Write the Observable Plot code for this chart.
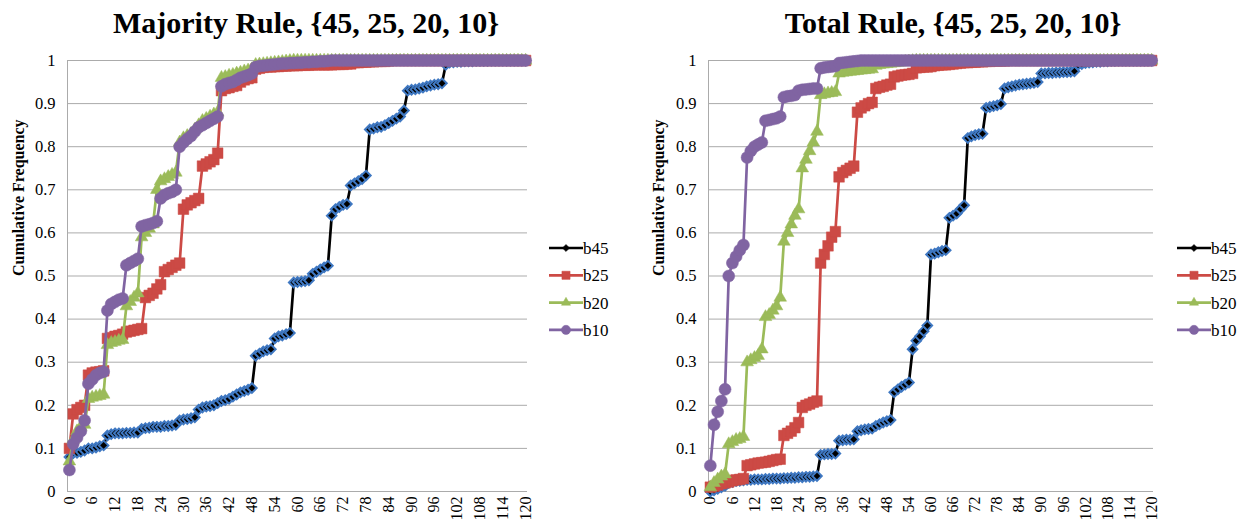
<!DOCTYPE html>
<html>
<head>
<meta charset="utf-8">
<script src="https://cdn.jsdelivr.net/npm/d3@7"></script>
<script src="https://cdn.jsdelivr.net/npm/@observablehq/plot@0.6"></script>
<style>
  body { margin: 0; background: #fff; }
  #root { position: relative; width: 1246px; height: 522px; overflow: hidden;
          font-family: "Liberation Serif", "Times New Roman", serif; }
  .title { position: absolute; top: 8px; font-weight: bold; font-size: 30px; line-height: 30px;
           text-align: center; white-space: nowrap; color: #000; }
  .plot { position: absolute; top: 45px; }
  .legend { position: absolute; }
</style>
</head>
<body>
<div id="root"></div>
<script>
// ---------------- DATA ----------------
const titles = ["Majority Rule, {45, 25, 20, 10}", "Total Rule, {45, 25, 20, 10}"];
const yLabel = "Cumulative Frequency";
const seriesNames = ["b45", "b25", "b20", "b10"];
const yTicks = [0, 0.1, 0.2, 0.3, 0.4, 0.5, 0.6, 0.7, 0.8, 0.9, 1];
const xTicks = [0, 6, 12, 18, 24, 30, 36, 42, 48, 54, 60, 66, 72, 78, 84, 90, 96, 102, 108, 114, 120];
const categories = [
  0,1,2,3,4,5,6,7,8,9,10,11,12,13,14,15,16,17,18,19,
  20,21,22,23,24,25,26,27,28,29,30,31,32,33,34,35,36,37,38,39,
  40,41,42,43,44,45,46,47,48,49,50,51,52,53,54,55,56,57,58,59,
  60,61,62,63,64,65,66,67,68,69,70,71,72,73,74,75,76,77,78,79,
  80,81,82,83,84,85,86,87,88,89,90,91,92,93,94,95,96,97,98,99,
  100,101,102,103,104,105,106,107,108,109,110,111,112,113,114,115,116,117,118,119,
  120
];

// Majority Rule
const majB45 = [
  0.08,
  0.09,0.09,0.092,0.095,0.1,0.1,0.102,0.105,0.107,
  0.13,0.133,0.135,0.135,0.135,0.136,0.136,0.137,0.137,
  0.145,0.147,0.148,0.15,0.15,0.15,0.152,0.152,0.153,0.155,
  0.165,0.167,0.168,0.17,0.172,
  0.19,0.195,0.197,0.198,0.2,
  0.205,0.21,0.212,0.215,0.22,
  0.225,0.23,0.233,0.236,0.24,
  0.315,0.32,0.325,0.328,0.33,
  0.355,0.36,0.362,0.365,0.368,
  0.485,0.486,0.487,0.488,0.49,
  0.505,0.51,0.515,0.52,0.524,
  0.64,0.655,0.66,0.665,0.667,
  0.71,0.715,0.72,0.725,0.733,
  0.84,0.842,0.845,0.846,0.85,0.855,0.86,0.865,0.87,0.884,
  0.93,0.932,0.933,0.935,0.937,0.94,0.942,0.944,0.945,0.947,
  0.99,0.995,0.996,0.997,0.997,0.998,0.998,0.998,0.999,0.999,0.999,0.999,
  1,1,1,1,1,1,1,1,1,1
];
const majB25 = [
  0.1,0.18,0.19,0.195,0.2,
  0.27,0.275,0.277,0.278,0.28,
  0.355,0.357,0.36,0.362,0.365,
  0.37,0.372,0.374,0.376,0.378,
  0.45,0.455,0.46,0.47,0.48,
  0.51,0.515,0.52,0.525,0.53,
  0.655,0.665,0.67,0.675,0.68,
  0.755,0.76,0.765,0.77,0.785,
  0.93,0.935,0.937,0.94,0.942,0.95,0.955,0.958,0.96,
  0.98,0.982,0.984,0.985,0.985,0.986,0.986,0.987,0.987,0.988,
  0.988,0.988,0.989,0.989,0.989,0.99,0.99,0.99,0.99,0.99,
  0.99,0.991,0.991,0.991,0.992,0.992,
  0.995,0.995,0.996,0.996,0.997,0.997,0.998,0.998,0.998,0.999,
  1,1,1,1,1,1,1,1,1,1,
  1,1,1,1,1,1,1,1,1,1,
  1,1,1,1,1,1,1,1,1,1,
  1,1,1,1,1,1
];
const majB20 = [
  0.07,0.12,0.14,0.15,0.155,
  0.215,0.218,0.22,0.222,0.225,
  0.34,0.345,0.347,0.35,0.352,
  0.43,0.44,0.45,0.46,
  0.59,0.6,0.61,0.62,
  0.7,0.72,0.725,0.73,0.735,0.74,
  0.81,0.82,0.825,0.83,0.84,0.85,0.86,0.865,0.87,0.875,0.88,
  0.96,0.962,0.965,0.967,0.97,0.972,0.975,0.977,0.98,
  0.99,0.991,0.992,0.993,0.994,0.995,0.996,0.997,0.998,0.999,
  1,1,1,1,1,1,1,1,1,1,
  1,1,1,1,1,1,1,1,1,1,
  1,1,1,1,1,1,1,1,1,1,
  1,1,1,1,1,1,1,1,1,1,
  1,1,1,1,1,1,1,1,1,1,
  1,1,1,1,1,1,1,1,1,1,
  1,1
];
const majB10 = [
  0.05,0.11,0.125,0.14,0.165,
  0.25,0.26,0.27,0.275,0.278,
  0.42,0.435,0.44,0.445,0.448,
  0.525,0.53,0.535,0.54,
  0.615,0.618,0.62,0.623,0.627,
  0.68,0.688,0.692,0.695,0.7,
  0.8,0.81,0.818,0.825,0.835,0.845,0.85,0.855,0.86,0.865,0.87,
  0.94,0.945,0.948,0.95,0.955,0.96,0.963,0.966,0.97,
  0.985,0.987,0.988,0.989,0.99,0.991,0.992,0.993,0.993,0.994,
  0.994,0.995,0.995,0.996,0.996,0.997,0.997,0.998,0.998,0.999,
  1,1,1,1,1,1,1,1,1,1,
  1,1,1,1,1,1,1,1,1,1,
  1,1,1,1,1,1,1,1,1,1,
  1,1,1,1,1,1,1,1,1,1,
  1,1,1,1,1,1,1,1,1,1,
  1,1
];

// Total Rule
const totB45 = [
  0.0,0.003,0.006,0.01,0.013,
  0.02,0.022,0.024,0.025,0.026,0.027,0.027,0.028,0.028,0.028,
  0.029,0.029,0.03,0.03,0.03,0.031,0.031,0.032,0.032,0.033,
  0.033,0.034,0.034,0.035,0.036,
  0.085,0.086,0.087,0.087,0.088,
  0.118,0.119,0.12,0.12,0.121,
  0.14,0.142,0.144,0.145,0.146,
  0.152,0.156,0.16,0.163,0.166,
  0.23,0.237,0.243,0.248,0.253,
  0.33,0.35,0.36,0.372,0.385,
  0.55,0.552,0.555,0.558,0.56,
  0.635,0.64,0.645,0.655,0.664,
  0.82,0.824,0.827,0.829,0.83,
  0.89,0.892,0.894,0.896,0.899,
  0.935,0.938,0.94,0.942,0.944,0.945,0.946,0.947,0.948,0.95,
  0.97,0.97,0.971,0.971,0.972,0.972,0.973,0.973,0.974,0.975,
  0.99,0.992,0.994,0.995,0.996,0.997,0.997,0.998,0.998,0.999,0.999,
  1,1,1,1,1,1,1,1,1,1
];
const totB25 = [
  0.01,0.012,0.015,0.018,0.02,0.022,0.025,0.027,0.028,0.03,
  0.06,0.062,0.064,0.066,0.067,0.068,0.07,0.072,0.074,0.075,
  0.13,0.135,0.14,0.148,0.16,
  0.195,0.2,0.203,0.207,0.21,
  0.53,0.55,0.57,0.59,0.603,
  0.73,0.74,0.745,0.75,0.755,
  0.88,0.89,0.895,0.9,0.903,
  0.935,0.938,0.94,0.943,0.945,
  0.962,0.964,0.966,0.967,0.968,0.97,
  0.983,0.984,0.985,0.985,0.986,
  0.988,0.989,0.99,0.99,0.991,0.992,0.993,0.994,0.995,0.995,
  0.996,0.996,0.997,0.997,0.998,0.998,0.999,0.999,0.999,0.999,
  1,1,1,1,1,1,1,1,1,1,
  1,1,1,1,1,1,1,1,1,1,
  1,1,1,1,1,1,1,1,1,1,
  1,1,1,1,1,1,1,1,1,1
];
const totB20 = [
  0.01,0.02,0.028,0.035,0.04,
  0.11,0.115,0.12,0.122,0.127,
  0.3,0.305,0.31,0.315,0.33,
  0.405,0.41,0.42,0.43,0.45,
  0.58,0.6,0.62,0.64,0.655,
  0.75,0.77,0.79,0.81,0.835,
  0.92,0.922,0.924,0.925,0.927,
  0.97,0.972,0.973,0.974,0.975,0.976,0.977,0.978,0.979,0.98,
  0.988,0.99,0.991,0.992,0.993,0.994,0.995,0.996,0.997,0.998,0.999,
  1,1,1,1,1,1,1,1,1,1,
  1,1,1,1,1,1,1,1,1,1,
  1,1,1,1,1,1,1,1,1,1,
  1,1,1,1,1,1,1,1,1,1,
  1,1,1,1,1,1,1,1,1,1,
  1,1,1,1,1,1,1,1,1,1,
  1,1,1,1,1
];
const totB10 = [
  0.06,0.155,0.185,0.21,0.237,
  0.5,0.53,0.545,0.56,0.572,
  0.775,0.79,0.8,0.805,0.81,
  0.86,0.862,0.864,0.866,0.87,
  0.915,0.917,0.918,0.92,
  0.93,0.932,0.933,0.934,0.935,0.935,
  0.982,0.984,0.985,0.986,0.987,
  0.994,0.995,0.996,0.997,0.998,0.999,
  1,1,1,1,1,1,1,1,1,1,
  1,1,1,1,1,1,1,1,1,1,
  1,1,1,1,1,1,1,1,1,1,
  1,1,1,1,1,1,1,1,1,1,
  1,1,1,1,1,1,1,1,1,1,
  1,1,1,1,1,1,1,1,1,1,
  1,1,1,1,1,1,1,1,1,1,
  1,1,1,1,1,1,1,1,1,1
];

// ---------------- STYLE ----------------
const gridColor = "#ababab";
const styles = {
  b45: {line: "#000000", fill: "#000000", stroke: "#3f78c2", strokeWidth: 2, symbol: "diamond2", r: 4.3},
  b25: {line: "#cc4a45", fill: "#cc4a45", stroke: "#cc4a45", strokeWidth: 0.5, symbol: "square", r: 6},
  b20: {line: "#9bbb59", fill: "#9bbb59", stroke: "#9bbb59", strokeWidth: 0.5, symbol: "triangle", r: 4.7},
  b10: {line: "#8064a2", fill: "#8064a2", stroke: "#8064a2", strokeWidth: 0.5, symbol: "circle", r: 6}
};

const panels = [
  {series: [majB45, majB25, majB20, majB10], left: 0, width: 540, ml: 67, mr: 13, titleLeft: 0, titleWidth: 612, legendLeft: 547, labelDx: -49},
  {series: [totB45, totB25, totB20, totB10], left: 640, width: 525, ml: 68, mr: 12, titleLeft: 640, titleWidth: 626, legendLeft: 1175, labelDx: -50}
];

const root = document.getElementById("root");

panels.forEach((p, pi) => {
  p.series.forEach((arr, i) => {
    if (arr.length !== categories.length) throw new Error(`panel ${pi} series ${seriesNames[i]} has ${arr.length} values`);
  });

  const title = document.createElement("div");
  title.className = "title";
  title.style.left = p.titleLeft + "px";
  title.style.width = p.titleWidth + "px";
  title.textContent = titles[pi];
  root.appendChild(title);

  const rows = [];
  seriesNames.forEach((name, i) => {
    p.series[i].forEach((v, j) => rows.push({x: categories[j], y: v, s: name}));
  });

  const marks = [
    Plot.gridY(yTicks, {stroke: gridColor, strokeOpacity: 1, strokeWidth: 1}),
    Plot.frame({anchor: "left", stroke: gridColor, strokeWidth: 1}),
    Plot.axisY(yTicks, {tickSize: 0, tickPadding: 12, fontSize: 16.5, tickFormat: d => String(d), label: null}),
    Plot.axisX(xTicks, {tickSize: 0, tickPadding: 5, tickRotate: -90, fontSize: 16, tickFormat: d => String(d), label: null}),
    Plot.text([yLabel], {frameAnchor: "left", dx: p.labelDx, rotate: -90, fontWeight: "bold", fontSize: 16, fill: "#000"})
  ];
  seriesNames.forEach(name => {
    const st = styles[name];
    const sub = rows.filter(d => d.s === name);
    marks.push(Plot.line(sub, {x: "x", y: "y", stroke: st.line, strokeWidth: 2.7, strokeLinejoin: "round"}));
    marks.push(Plot.dot(sub, {x: "x", y: "y", symbol: () => st.symbol, r: st.r, fill: st.fill, stroke: st.stroke, strokeWidth: st.strokeWidth}));
  });

  const svg = Plot.plot({
    width: p.width,
    height: 477,
    marginLeft: p.ml,
    marginRight: p.mr,
    marginTop: 15,
    marginBottom: 31,
    style: {fontFamily: '"Liberation Serif", "Times New Roman", serif', background: "transparent", color: "#000", overflow: "visible"},
    x: {type: "linear", domain: [-0.5, 120.5], axis: null},
    y: {type: "linear", domain: [0, 1], axis: null},
    symbol: {type: "identity"},
    marks
  });
  svg.classList.add("plot");
  svg.style.left = p.left + "px";
  root.appendChild(svg);

  // legend
  const lw = 80, lh = 120, rowH = 27.3, y0 = 16;
  const lsvg = d3.create("svg").attr("width", lw).attr("height", lh).attr("class", "legend")
    .style("left", p.legendLeft + "px").style("top", "232px");
  const symMap = {diamond2: d3.symbolDiamond2, square: d3.symbolSquare, triangle: d3.symbolTriangle, circle: d3.symbolCircle};
  seriesNames.forEach((name, i) => {
    const st = styles[name];
    const g = lsvg.append("g").attr("transform", `translate(0,${y0 + i * rowH})`);
    g.append("line").attr("x1", 2).attr("x2", 36).attr("y1", 0).attr("y2", 0)
      .attr("stroke", st.line).attr("stroke-width", 2.7);
    const rr = name === "b45" ? 3.2 : name === "b20" ? 3.4 : 4.6;
    g.append("path").attr("transform", "translate(19,0)")
      .attr("d", d3.symbol(symMap[st.symbol], Math.PI * rr * rr)())
      .attr("fill", st.fill).attr("stroke", name === "b45" ? "#000" : st.stroke).attr("stroke-width", 0.5);
    g.append("text").attr("x", 36).attr("y", 0).attr("dy", "0.35em")
      .attr("font-family", '"Liberation Serif", "Times New Roman", serif').attr("font-size", 17)
      .attr("fill", "#000").text(name);
  });
  root.appendChild(lsvg.node());
});
</script>
</body>
</html>
